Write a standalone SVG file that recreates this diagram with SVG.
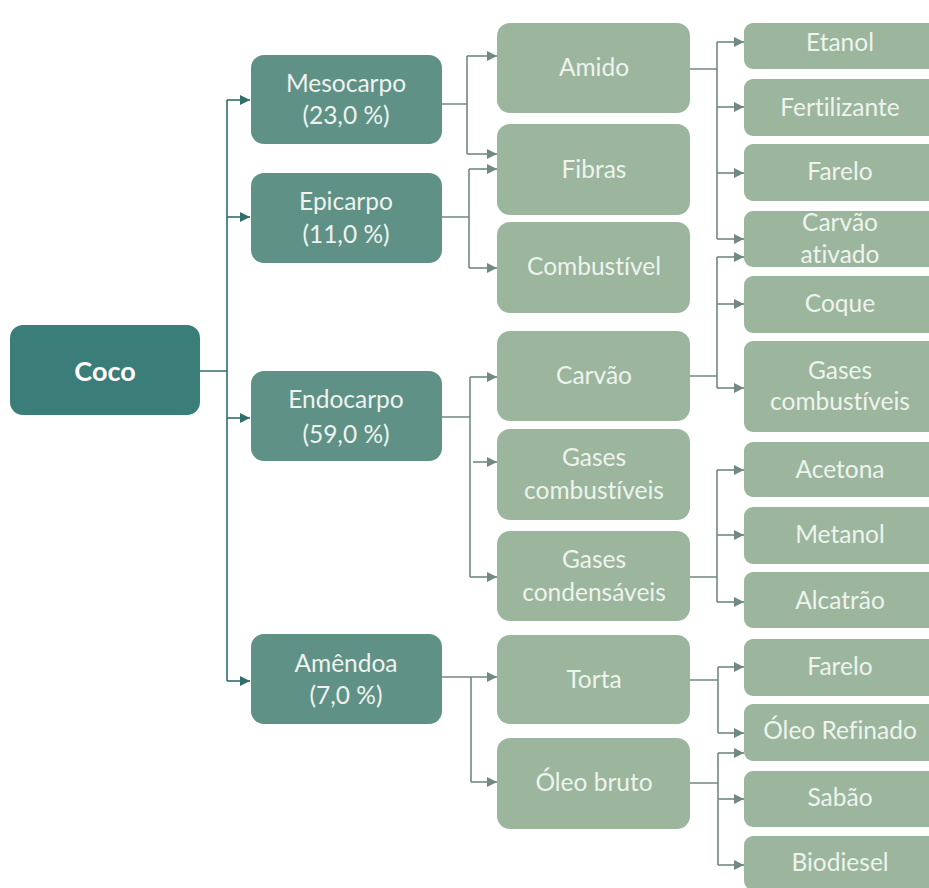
<svg xmlns="http://www.w3.org/2000/svg" width="929" height="888" viewBox="0 0 929 888">
<defs>
<style>
.root{fill:#3b7d78}
.l1{fill:#5f9187}
.l2{fill:#9bb69d}
.t{font-family:Lato,"Liberation Sans",sans-serif;font-size:24.5px;fill:#eef3ee;text-anchor:middle;font-variant-ligatures:none}
.tb{font-family:Lato,"Liberation Sans",sans-serif;font-size:27px;font-weight:bold;fill:#ffffff;text-anchor:middle}
.cd{fill:none;stroke:#2f6f6a;stroke-width:1.6}
.cg{fill:none;stroke:#72897f;stroke-width:1.6}
</style>
<marker id="ad" viewBox="0 0 10 10" refX="10" refY="5" markerWidth="10" markerHeight="10" markerUnits="userSpaceOnUse" orient="auto"><path d="M0,0 L10,5 L0,10 z" fill="#2f6f6a"/></marker>
<marker id="ag" viewBox="0 0 10 10" refX="10" refY="5" markerWidth="10" markerHeight="10" markerUnits="userSpaceOnUse" orient="auto"><path d="M0,0 L10,5 L0,10 z" fill="#72897f"/></marker>
</defs>
<rect width="929" height="888" fill="#ffffff"/>

<g id="connectors">
<path class="cd" d="M200,371 H227 M227,100 V681"/>
<path class="cd" marker-end="url(#ad)" d="M227,100 H250"/>
<path class="cd" marker-end="url(#ad)" d="M227,217 H250"/>
<path class="cd" marker-end="url(#ad)" d="M227,418 H250"/>
<path class="cd" marker-end="url(#ad)" d="M227,681 H250"/>

<path class="cg" d="M442,104 H467 M467,56 V154"/>
<path class="cg" marker-end="url(#ag)" d="M467,56 H497"/>
<path class="cg" marker-end="url(#ag)" d="M467,154 H497"/>
<path class="cg" d="M442,217 H469 M469,169 V268"/>
<path class="cg" marker-end="url(#ag)" d="M469,169 H497"/>
<path class="cg" marker-end="url(#ag)" d="M469,268 H497"/>
<path class="cg" d="M442,417 H470 M470,377 V577"/>
<path class="cg" marker-end="url(#ag)" d="M470,377 H497"/>
<path class="cg" marker-end="url(#ag)" d="M473,462 H497"/>
<path class="cg" marker-end="url(#ag)" d="M470,577 H497"/>
<path class="cg" marker-end="url(#ag)" d="M442,677 H497"/>
<path class="cg" d="M471,677 V782"/>
<path class="cg" marker-end="url(#ag)" d="M471,782 H497"/>

<path class="cg" d="M690,69 H717 M717,42 V239"/>
<path class="cg" marker-end="url(#ag)" d="M717,42 H744"/>
<path class="cg" marker-end="url(#ag)" d="M717,107 H744"/>
<path class="cg" marker-end="url(#ag)" d="M717,173 H744"/>
<path class="cg" marker-end="url(#ag)" d="M717,239 H744"/>
<path class="cg" d="M690,376 H717 M717,257 V388"/>
<path class="cg" marker-end="url(#ag)" d="M717,257 H744"/>
<path class="cg" marker-end="url(#ag)" d="M717,304 H744"/>
<path class="cg" marker-end="url(#ag)" d="M717,388 H744"/>
<path class="cg" d="M690,577 H717 M717,470 V602"/>
<path class="cg" marker-end="url(#ag)" d="M717,470 H744"/>
<path class="cg" marker-end="url(#ag)" d="M717,535 H744"/>
<path class="cg" marker-end="url(#ag)" d="M717,602 H744"/>
<path class="cg" d="M690,680 H718 M718,667 V733"/>
<path class="cg" marker-end="url(#ag)" d="M718,667 H744"/>
<path class="cg" marker-end="url(#ag)" d="M718,733 H744"/>
<path class="cg" d="M690,783 H718 M718,753 V865"/>
<path class="cg" marker-end="url(#ag)" d="M718,753 H744"/>
<path class="cg" marker-end="url(#ag)" d="M718,799 H744"/>
<path class="cg" marker-end="url(#ag)" d="M718,865 H744"/>
</g>

<g id="coco"><rect class="root" x="10" y="325" width="190" height="90" rx="13"/><text class="tb" x="105" y="381">Coco</text></g>

<g id="mesocarpo"><rect class="l1" x="251" y="55" width="191" height="89" rx="13"/><text class="t" x="346" y="92">Mesocarpo</text><text class="t" x="346" y="124">(23,0 %)</text></g>
<g id="epicarpo"><rect class="l1" x="251" y="173" width="191" height="90" rx="13"/><text class="t" x="346" y="210">Epicarpo</text><text class="t" x="346" y="243">(11,0 %)</text></g>
<g id="endocarpo"><rect class="l1" x="251" y="371" width="191" height="90" rx="13"/><text class="t" x="346" y="408">Endocarpo</text><text class="t" x="346" y="443">(59,0 %)</text></g>
<g id="amendoa"><rect class="l1" x="251" y="634" width="191" height="90" rx="13"/><text class="t" x="346" y="672">Amêndoa</text><text class="t" x="346" y="704">(7,0 %)</text></g>

<g id="amido"><rect class="l2" x="497" y="23" width="193" height="90" rx="13"/><text class="t" x="594" y="76">Amido</text></g>
<g id="fibras"><rect class="l2" x="497" y="124" width="193" height="91" rx="13"/><text class="t" x="594" y="178">Fibras</text></g>
<g id="combustivel"><rect class="l2" x="497" y="222" width="193" height="91" rx="13"/><text class="t" x="594" y="275">Combustível</text></g>
<g id="carvao"><rect class="l2" x="497" y="331" width="193" height="90" rx="13"/><text class="t" x="594" y="384">Carvão</text></g>
<g id="gases-comb-2"><rect class="l2" x="497" y="429" width="193" height="91" rx="13"/><text class="t" x="594" y="466">Gases</text><text class="t" x="594" y="499">combustíveis</text></g>
<g id="gases-cond"><rect class="l2" x="497" y="531" width="193" height="90" rx="13"/><text class="t" x="594" y="568">Gases</text><text class="t" x="594" y="601">condensáveis</text></g>
<g id="torta"><rect class="l2" x="497" y="635" width="193" height="89" rx="13"/><text class="t" x="594" y="688">Torta</text></g>
<g id="oleo-bruto"><rect class="l2" x="497" y="738" width="193" height="91" rx="13"/><text class="t" x="594" y="791">Óleo bruto</text></g>

<g id="etanol"><rect class="l2" x="744" y="23" width="195" height="46" rx="9"/><text class="t" x="840" y="51">Etanol</text></g>
<g id="fertilizante"><rect class="l2" x="744" y="79" width="195" height="57" rx="9"/><text class="t" x="840" y="116">Fertilizante</text></g>
<g id="farelo-1"><rect class="l2" x="744" y="144" width="195" height="57" rx="9"/><text class="t" x="840" y="180">Farelo</text></g>
<g id="carvao-ativado"><rect class="l2" x="744" y="211" width="195" height="56" rx="9"/><text class="t" x="840" y="231">Carvão</text><text class="t" x="840" y="263">ativado</text></g>
<g id="coque"><rect class="l2" x="744" y="276" width="195" height="57" rx="9"/><text class="t" x="840" y="312">Coque</text></g>
<g id="gases-comb-3"><rect class="l2" x="744" y="341" width="195" height="91" rx="9"/><text class="t" x="840" y="379">Gases</text><text class="t" x="840" y="410">combustíveis</text></g>
<g id="acetona"><rect class="l2" x="744" y="442" width="195" height="55" rx="9"/><text class="t" x="840" y="478">Acetona</text></g>
<g id="metanol"><rect class="l2" x="744" y="507" width="195" height="57" rx="9"/><text class="t" x="840" y="543">Metanol</text></g>
<g id="alcatrao"><rect class="l2" x="744" y="572" width="195" height="56" rx="9"/><text class="t" x="840" y="609">Alcatrão</text></g>
<g id="farelo-2"><rect class="l2" x="744" y="639" width="195" height="57" rx="9"/><text class="t" x="840" y="675">Farelo</text></g>
<g id="oleo-refinado"><rect class="l2" x="744" y="704" width="195" height="57" rx="9"/><text class="t" x="840" y="739">Óleo Refinado</text></g>
<g id="sabao"><rect class="l2" x="744" y="771" width="195" height="56" rx="9"/><text class="t" x="840" y="806">Sabão</text></g>
<g id="biodiesel"><rect class="l2" x="744" y="836" width="195" height="54" rx="9"/><text class="t" x="840" y="871">Biodiesel</text></g>
</svg>
